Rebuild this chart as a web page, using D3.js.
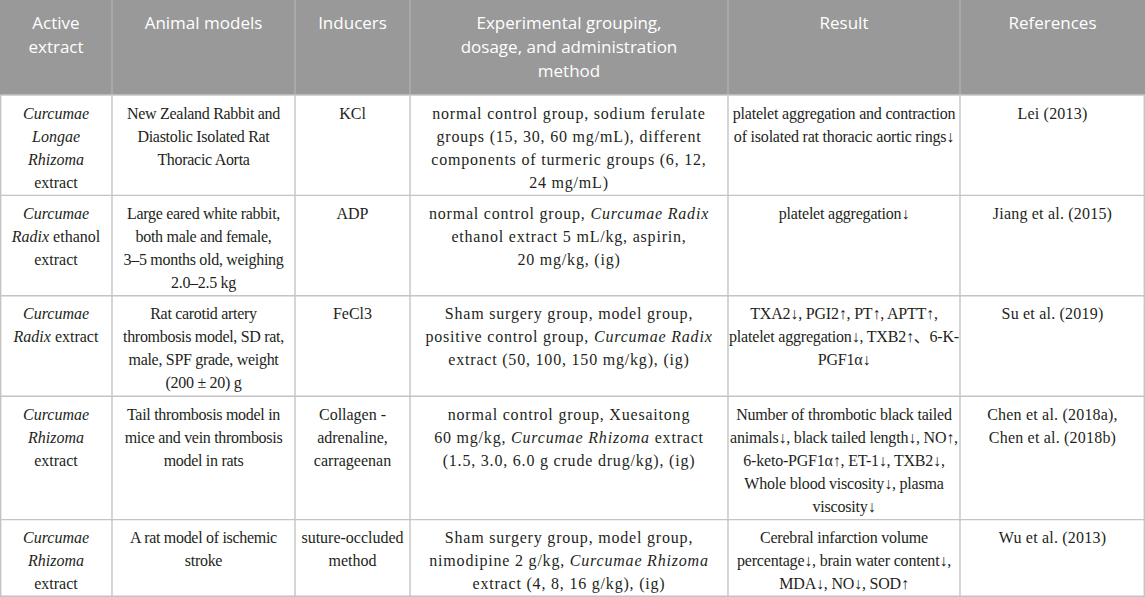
<!DOCTYPE html>
<html>
<head>
<meta charset="utf-8">
<script src="https://cdn.jsdelivr.net/npm/d3@7"></script>
<style>
  body { margin: 0; background: #fff; overflow: hidden; }
</style>
</head>
<body>
<div class="table-container"></div>
<script>
// Column headings, one entry per line of the heading
const headings = [
    ["Active", "extract"],
    ["Animal models"],
    ["Inducers"],
    ["Experimental grouping,", "dosage, and administration", "method"],
    ["Result"],
    ["References"]
];

// Cell contents, one array per column, one entry per row, lines as in the source.
// Text between underscores is italic.
const activeExtract = [
    ["_Curcumae_", "_Longae_", "_Rhizoma_", "extract"],
    ["_Curcumae_", "_Radix_ ethanol", "extract"],
    ["_Curcumae_", "_Radix_ extract"],
    ["_Curcumae_", "_Rhizoma_", "extract"],
    ["_Curcumae_", "_Rhizoma_", "extract"]
];
const animalModels = [
    ["New Zealand Rabbit and", "Diastolic Isolated Rat", "Thoracic Aorta"],
    ["Large eared white rabbit,", "both male and female,", "3–5 months old, weighing", "2.0–2.5 kg"],
    ["Rat carotid artery", "thrombosis model, SD rat,", "male, SPF grade, weight", "(200 ± 20) g"],
    ["Tail thrombosis model in", "mice and vein thrombosis", "model in rats"],
    ["A rat model of ischemic", "stroke"]
];
const inducers = [
    ["KCl"],
    ["ADP"],
    ["FeCl3"],
    ["Collagen -", "adrenaline,", "carrageenan"],
    ["suture-occluded", "method"]
];
const grouping = [
    ["normal control group, sodium ferulate", "groups (15, 30, 60 mg/mL), different", "components of turmeric groups (6, 12,", "24 mg/mL)"],
    ["normal control group, _Curcumae Radix_", "ethanol extract 5 mL/kg, aspirin,", "20 mg/kg, (ig)"],
    ["Sham surgery group, model group,", "positive control group, _Curcumae Radix_", "extract (50, 100, 150 mg/kg), (ig)"],
    ["normal control group, Xuesaitong", "60 mg/kg, _Curcumae Rhizoma_ extract", "(1.5, 3.0, 6.0 g crude drug/kg), (ig)"],
    ["Sham surgery group, model group,", "nimodipine 2 g/kg, _Curcumae Rhizoma_", "extract (4, 8, 16 g/kg), (ig)"]
];
const results = [
    ["platelet aggregation and contraction", "of isolated rat thoracic aortic rings↓"],
    ["platelet aggregation↓"],
    ["TXA2↓, PGI2↑, PT↑, APTT↑,", "platelet aggregation↓, TXB2↑、6-K-", "PGF1α↓"],
    ["Number of thrombotic black tailed", "animals↓, black tailed length↓, NO↑,", "6-keto-PGF1α↑, ET-1↓, TXB2↓,", "Whole blood viscosity↓, plasma", "viscosity↓"],
    ["Cerebral infarction volume", "percentage↓, brain water content↓,", "MDA↓, NO↓, SOD↑"]
];
const references = [
    ["Lei (2013)"],
    ["Jiang et al. (2015)"],
    ["Su et al. (2019)"],
    ["Chen et al. (2018a),", "Chen et al. (2018b)"],
    ["Wu et al. (2013)"]
];

const columns = [activeExtract, animalModels, inducers, grouping, results, references];

// Layout
const width = 1145, height = 597;
const colWidths = [112, 183, 115, 318, 232, 185];
const colTracking = [0, -0.3, 0, 0.8, -0.2, 0.2];
const headerH = 95, lineH = 23, headLineH = 24, firstBase = 23.5;

const colEdges = [0, ...d3.cumsum(colWidths)];
const x = d3.scaleOrdinal().domain(d3.range(columns.length)).range(colEdges.slice(0, -1));
const colCenter = i => x(i) + colWidths[i] / 2;

// Row heights follow the tallest cell of each row; spare height is shared out as padding
const nRows = activeExtract.length;
const rowLines = d3.range(nRows).map(r => d3.max(columns, c => c[r].length));
const pad = (height - headerH - d3.sum(rowLines) * lineH) / nRows;
const rowTops = [headerH, ...d3.cumsum(rowLines, n => n * lineH + pad).map(v => v + headerH)];

const svg = d3.select(".table-container")
    .append("svg")
    .attr("width", width)
    .attr("height", height)
    .style("display", "block");

// Header band
svg.append("rect")
    .attr("x", 0).attr("y", 0)
    .attr("width", width).attr("height", headerH)
    .attr("fill", "#999999");

// Grid lines: header separators are lighter
svg.append("g")
    .selectAll("line")
    .data(colEdges.slice(1, -1))
    .join("line")
    .attr("x1", d => d).attr("x2", d => d)
    .attr("y1", 0).attr("y2", headerH)
    .attr("stroke", "#b4b4b4")
    .attr("stroke-width", 1.2);

svg.append("g")
    .selectAll("line")
    .data(colEdges)
    .join("line")
    .attr("x1", d => Math.min(Math.max(d, 0.7), width - 0.7))
    .attr("x2", d => Math.min(Math.max(d, 0.7), width - 0.7))
    .attr("y1", headerH).attr("y2", height)
    .attr("stroke", "#c4c4c4")
    .attr("stroke-width", 1.4);

svg.append("g")
    .selectAll("line")
    .data(rowTops)
    .join("line")
    .attr("x1", 0).attr("x2", width)
    .attr("y1", d => Math.min(d, height - 0.7))
    .attr("y2", d => Math.min(d, height - 0.7))
    .attr("stroke", "#c4c4c4")
    .attr("stroke-width", 1.4);

// Header text
headings.forEach((lines, i) => {
    svg.append("text")
        .attr("text-anchor", "middle")
        .attr("font-family", "'Open Sans', sans-serif")
        .attr("font-size", 17)
        .attr("fill", "#ffffff")
        .selectAll("tspan")
        .data(lines)
        .join("tspan")
        .attr("x", colCenter(i))
        .attr("y", (d, k) => 29 + k * headLineH)
        .text(d => d);
});

// Body text, italics marked with underscores
const body = svg.append("g")
    .attr("font-family", "'Liberation Serif', 'DejaVu Serif', 'Noto Sans CJK SC', serif")
    .attr("font-size", 16)
    .attr("fill", "#231f20");

columns.forEach((col, i) => {
    col.forEach((lines, r) => {
        const t = body.append("text")
            .attr("text-anchor", "middle")
            .attr("letter-spacing", colTracking[i]);
        lines.forEach((line, k) => {
            const parts = line.split("_");
            let first = true;
            parts.forEach((part, p) => {
                if (!part) return;
                const ts = t.append("tspan")
                    .attr("font-style", p % 2 ? "italic" : "normal")
                    .text(part);
                if (first) {
                    ts.attr("x", colCenter(i)).attr("y", rowTops[r] + firstBase + k * lineH);
                    first = false;
                }
            });
        });
    });
});
</script>
</body>
</html>
